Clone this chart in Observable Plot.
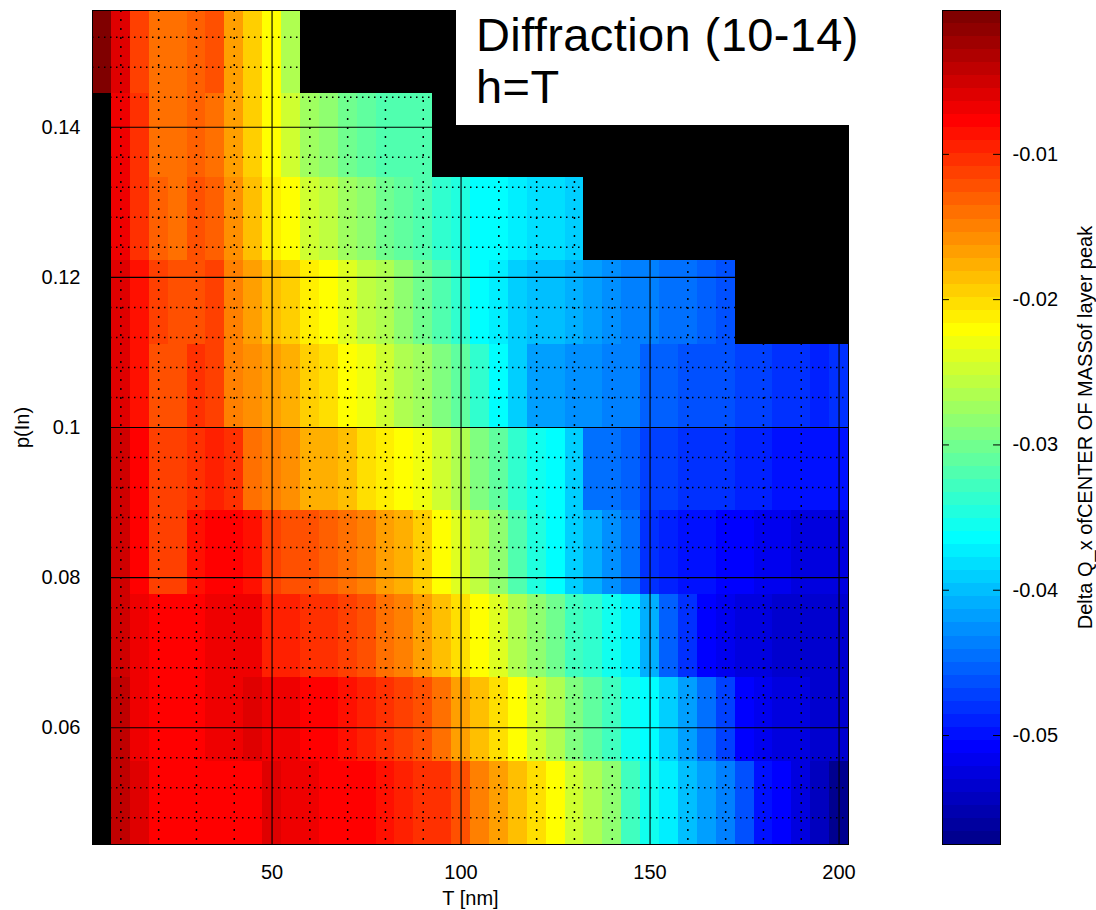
<!DOCTYPE html>
<html><head><meta charset="utf-8">
<script src="https://cdn.jsdelivr.net/npm/d3@7"></script>
<script src="https://cdn.jsdelivr.net/npm/@observablehq/plot@0.6"></script>
<style>
body{margin:0;background:#fff;font-family:"Liberation Sans",Arial,sans-serif;}
#wrap{position:relative;width:1096px;height:910px;overflow:hidden;}
#main,#cbar{position:absolute;top:0;}
#main{left:0}
#cbar{left:942px}
#titlebox{position:absolute;left:456px;top:0;width:394px;height:125px;background:#fff;font-size:47px;letter-spacing:0.4px;line-height:52px;padding-left:20px;padding-top:9px;box-sizing:border-box;color:#000;white-space:nowrap;}
</style></head>
<body><div id="wrap"><div id="main"></div><div id="cbar"></div>
<div id="titlebox"><div>Diffraction (10-14)</div><div>h=T</div></div></div>
<script>
// T [nm] (column centres)
const T = [5,10,15,20,25,30,35,40,45,50,55,60,65,70,75,80,85,90,95,100,105,110,115,120,125,130,135,140,145,150,155,160,165,170,175,180,185,190,195,200];
// p(In) (row centres)
const pIn = [0.05,0.06111,0.07222,0.08333,0.09444,0.10556,0.11667,0.12778,0.13889,0.15];
const cellW = 5, cellH = 0.011111;

// Delta Q_x of CENTER OF MASS of layer peak, one array per p(In) row (null = no data)
const dq_p0500 = [null,-0.0041,-0.0059,-0.0077,-0.0077,-0.0077,-0.0077,-0.0077,-0.0077,-0.0059,-0.0068,-0.0068,-0.0077,-0.0077,-0.0077,-0.0086,-0.0095,-0.0104,-0.0104,-0.0122,-0.0149,-0.0167,-0.0185,-0.0203,-0.0221,-0.0248,-0.0266,-0.0284,-0.0328,-0.0355,-0.0373,-0.0400,-0.0418,-0.0436,-0.0463,-0.0499,-0.0508,-0.0526,-0.0544,-0.0571];
const dq_p0611 = [null,-0.0041,-0.0068,-0.0077,-0.0077,-0.0077,-0.0068,-0.0068,-0.0059,-0.0068,-0.0068,-0.0077,-0.0077,-0.0086,-0.0095,-0.0104,-0.0113,-0.0122,-0.0140,-0.0167,-0.0185,-0.0203,-0.0221,-0.0248,-0.0266,-0.0293,-0.0310,-0.0328,-0.0355,-0.0364,-0.0391,-0.0418,-0.0445,-0.0472,-0.0508,-0.0517,-0.0526,-0.0526,-0.0535,-0.0535];
const dq_p0722 = [null,-0.0050,-0.0068,-0.0077,-0.0077,-0.0077,-0.0068,-0.0068,-0.0068,-0.0095,-0.0095,-0.0104,-0.0104,-0.0113,-0.0122,-0.0140,-0.0149,-0.0167,-0.0185,-0.0203,-0.0221,-0.0239,-0.0266,-0.0284,-0.0301,-0.0328,-0.0337,-0.0355,-0.0373,-0.0409,-0.0454,-0.0481,-0.0508,-0.0517,-0.0526,-0.0526,-0.0535,-0.0535,-0.0535,-0.0535];
const dq_p0833 = [null,-0.0050,-0.0077,-0.0113,-0.0113,-0.0086,-0.0077,-0.0077,-0.0086,-0.0113,-0.0122,-0.0122,-0.0131,-0.0140,-0.0149,-0.0167,-0.0176,-0.0194,-0.0221,-0.0239,-0.0257,-0.0284,-0.0319,-0.0346,-0.0364,-0.0391,-0.0409,-0.0427,-0.0445,-0.0481,-0.0490,-0.0499,-0.0499,-0.0508,-0.0508,-0.0517,-0.0517,-0.0526,-0.0526,-0.0526];
const dq_p0944 = [null,-0.0050,-0.0077,-0.0113,-0.0113,-0.0104,-0.0095,-0.0104,-0.0140,-0.0149,-0.0158,-0.0176,-0.0176,-0.0185,-0.0203,-0.0212,-0.0221,-0.0230,-0.0248,-0.0266,-0.0293,-0.0310,-0.0337,-0.0355,-0.0364,-0.0391,-0.0445,-0.0445,-0.0454,-0.0472,-0.0472,-0.0481,-0.0481,-0.0481,-0.0490,-0.0490,-0.0499,-0.0499,-0.0499,-0.0499];
const dq_p1056 = [null,-0.0059,-0.0086,-0.0122,-0.0122,-0.0104,-0.0113,-0.0149,-0.0158,-0.0167,-0.0176,-0.0194,-0.0203,-0.0221,-0.0230,-0.0248,-0.0266,-0.0275,-0.0293,-0.0310,-0.0337,-0.0364,-0.0391,-0.0418,-0.0418,-0.0427,-0.0427,-0.0436,-0.0436,-0.0454,-0.0454,-0.0463,-0.0463,-0.0463,-0.0472,-0.0472,-0.0481,-0.0481,-0.0490,-0.0481];
const dq_p1167 = [null,-0.0059,-0.0086,-0.0113,-0.0122,-0.0122,-0.0113,-0.0149,-0.0167,-0.0185,-0.0194,-0.0212,-0.0221,-0.0239,-0.0257,-0.0266,-0.0284,-0.0301,-0.0319,-0.0337,-0.0364,-0.0373,-0.0391,-0.0400,-0.0400,-0.0409,-0.0418,-0.0427,-0.0436,-0.0436,-0.0445,-0.0445,-0.0454,-0.0463,null,null,null,null,null,null];
const dq_p1278 = [null,-0.0068,-0.0104,-0.0131,-0.0140,-0.0122,-0.0131,-0.0158,-0.0185,-0.0212,-0.0221,-0.0248,-0.0257,-0.0275,-0.0284,-0.0301,-0.0310,-0.0319,-0.0337,-0.0346,-0.0364,-0.0364,-0.0373,-0.0382,-0.0382,-0.0391,null,null,null,null,null,null,null,null,null,null,null,null,null,null];
const dq_p1389 = [null,-0.0068,-0.0104,-0.0140,-0.0140,-0.0131,-0.0140,-0.0167,-0.0194,-0.0221,-0.0248,-0.0275,-0.0284,-0.0301,-0.0310,-0.0319,-0.0319,-0.0319,null,null,null,null,null,null,null,null,null,null,null,null,null,null,null,null,null,null,null,null,null,null];
const dq_p1500 = [-0.0006,-0.0059,-0.0113,-0.0140,-0.0140,-0.0131,-0.0122,-0.0167,-0.0194,-0.0221,-0.0266,null,null,null,null,null,null,null,null,null,null,null,null,null,null,null,null,null,null,null,null,null,null,null,null,null,null,null,null,null];
const rows = [dq_p0500,dq_p0611,dq_p0722,dq_p0833,dq_p0944,dq_p1056,dq_p1167,dq_p1278,dq_p1389,dq_p1500];

// axis ticks
const xTicks = [50,100,150,200];
const yTicks = [0.06,0.08,0.1,0.12,0.14];
const xMinor = [10,20,30,40,60,70,80,90,110,120,130,140,160,170,180,190];
const yMinor = [0.048,0.052,0.056,0.064,0.068,0.072,0.076,0.084,0.088,0.092,0.096,0.104,0.108,0.112,0.116,0.124,0.128,0.132,0.136,0.144,0.148,0.152];
const cTicks = [-0.05,-0.04,-0.03,-0.02,-0.01];
const cMin = -0.0575, cMax = -0.0001, nColors = 64;

// jet colormap (64 levels)
function jet(x){
  const c = v => Math.round(255*Math.max(0,Math.min(1,v)));
  return `rgb(${c(1.5-Math.abs(4*x-3))},${c(1.5-Math.abs(4*x-2))},${c(1.5-Math.abs(4*x-1))})`;
}
const jetColors = d3.range(1, nColors+1).map(k => jet(k/nColors));
const thresholds = d3.range(1, nColors).map(k => cMin + k*(cMax-cMin)/nColors);
const colorOpts = {type:"threshold", domain: thresholds, range: jetColors};

const cells = [];
rows.forEach((row, r) => row.forEach((v, c) => { if (v != null) cells.push({T: T[c], p: pIn[r], v}); }));

const font = {fontFamily:"'Liberation Sans', Arial, sans-serif", fontSize:"20px", color:"#000", background:"transparent"};

const main = Plot.plot({
  width: 1096, height: 910,
  marginLeft: 92, marginRight: 248, marginTop: 10, marginBottom: 66,
  style: font,
  x: {domain:[2.5,202.5], ticks: xTicks, tickSize: 0, tickPadding: 20, label: "T [nm]", labelAnchor: "center", labelArrow: "none", labelOffset: 60},
  y: {domain:[0.044444,0.155556], ticks: yTicks, tickFormat: d => String(d), tickSize: 0, tickPadding: 12, label: "p(In)", labelAnchor: "center", labelArrow: "none", labelOffset: 78},
  color: colorOpts,
  marks: [
    Plot.frame({fill:"black"}),
    Plot.rect(cells, {x1: d => d.T - cellW/2, x2: d => d.T + cellW/2, y1: d => d.p - cellH/2, y2: d => d.p + cellH/2, fill: "v", shapeRendering: "crispEdges"}),
    Plot.ruleX(xMinor, {stroke:"black", strokeWidth:1.5, strokeDasharray:"2,7"}),
    Plot.ruleY(yMinor, {stroke:"black", strokeWidth:1.5, strokeDasharray:"1.5,4.5"}),
    Plot.ruleX(xTicks, {stroke:"black", strokeWidth:1.1}),
    Plot.ruleY(yTicks, {stroke:"black", strokeWidth:1.1}),
    Plot.frame({stroke:"black", strokeWidth:1})
  ]
});
document.getElementById("main").appendChild(main);

const levels = d3.range(nColors).map(k => {
  const lo = cMin + k*(cMax-cMin)/nColors, hi = cMin + (k+1)*(cMax-cMin)/nColors;
  return {lo, hi, mid: (lo+hi)/2};
});
const cbar = Plot.plot({
  width: 154, height: 910,
  marginLeft: 0, marginRight: 96, marginTop: 10, marginBottom: 66,
  style: font,
  x: {domain:[0,1], axis: null},
  y: {domain:[cMin,cMax], ticks: cTicks, tickFormat: d => String(d), axis: "right", tickSize: 0, tickPadding: 12,
      label: "Delta Q_x ofCENTER OF MASSof layer peak", labelAnchor: "center", labelArrow: "none", labelOffset: 91},
  color: colorOpts,
  marks: [
    Plot.rect(levels, {x1: 0, x2: 1, y1: "lo", y2: "hi", fill: "mid", shapeRendering: "crispEdges"}),
    Plot.ruleY(cTicks, {x1: 0, x2: 0.12, stroke:"black"}),
    Plot.ruleY(cTicks, {x1: 0.88, x2: 1, stroke:"black"}),
    Plot.frame({stroke:"black"})
  ]
});
document.getElementById("cbar").appendChild(cbar);
</script>
</body></html>
